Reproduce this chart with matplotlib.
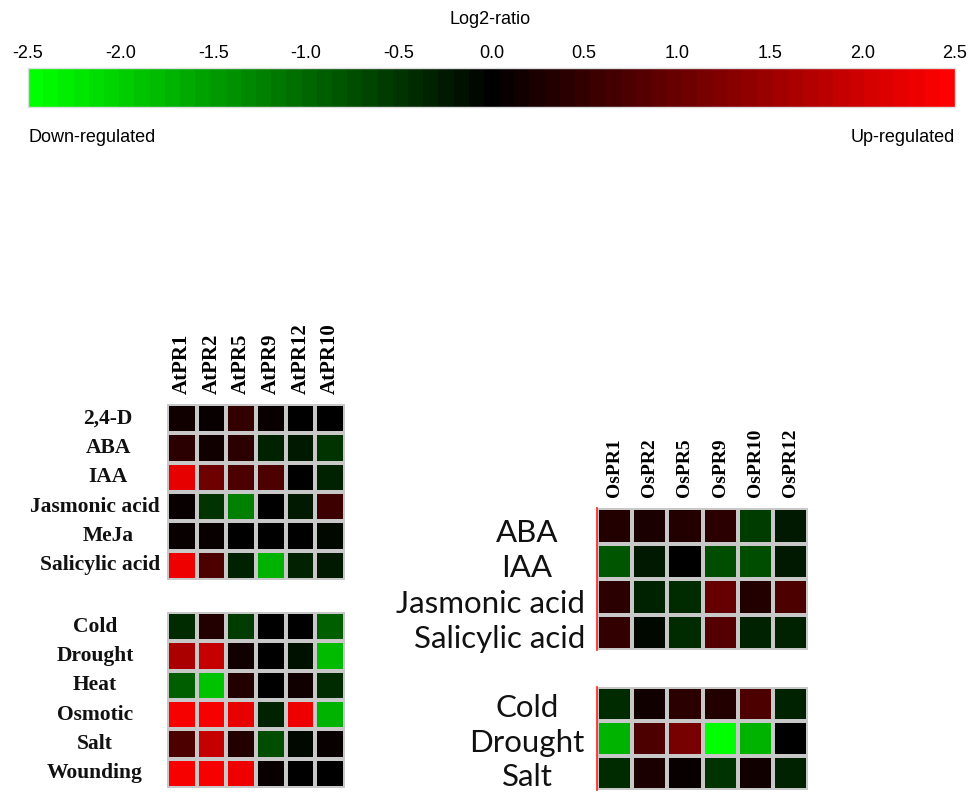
import numpy as np
import matplotlib
matplotlib.use("Agg")
import matplotlib.pyplot as plt
from matplotlib.colors import LinearSegmentedColormap, Normalize
from matplotlib.cm import ScalarMappable
from matplotlib.transforms import blended_transform_factory, ScaledTranslation

# ---- data: log2 expression ratios ----
at_genes = ["AtPR1", "AtPR2", "AtPR5", "AtPR9", "AtPR12", "AtPR10"]
at_hormones = ["2,4-D", "ABA", "IAA", "Jasmonic acid", "MeJa", "Salicylic acid"]
at_stresses = ["Cold", "Drought", "Heat", "Osmotic", "Salt", "Wounding"]

at_hormone_vals = [
    [0.20, 0.10, 0.50, 0.05, 0.00, 0.00],
    [0.40, 0.15, 0.40, -0.35, -0.25, -0.50],
    [2.20, 1.10, 0.70, 0.70, 0.00, -0.35],
    [0.05, -0.50, -1.20, 0.00, -0.25, 0.60],
    [0.10, 0.05, 0.00, 0.00, 0.00, -0.05],
    [2.30, 0.70, -0.35, -1.70, -0.35, -0.25],
]
at_stress_vals = [
    [-0.40, 0.30, -0.55, 0.00, 0.00, -0.90],
    [1.60, 1.90, 0.15, 0.00, -0.20, -1.80],
    [-0.90, -1.90, 0.35, 0.00, 0.15, -0.45],
    [2.40, 2.40, 2.20, -0.30, 2.30, -1.70],
    [0.70, 1.90, 0.30, -0.70, -0.10, 0.10],
    [2.40, 2.40, 2.30, 0.05, 0.00, 0.00],
]

os_genes = ["OsPR1", "OsPR2", "OsPR5", "OsPR9", "OsPR10", "OsPR12"]
os_hormones = ["ABA", "IAA", "Jasmonic acid", "Salicylic acid"]
os_stresses = ["Cold", "Drought", "Salt"]

os_hormone_vals = [
    [0.30, 0.25, 0.35, 0.40, -0.60, -0.25],
    [-0.80, -0.25, 0.00, -0.70, -0.70, -0.25],
    [0.45, -0.30, -0.45, 1.00, 0.35, 0.70],
    [0.50, -0.10, -0.40, 0.80, -0.35, -0.30],
]
os_stress_vals = [
    [-0.45, 0.20, 0.40, 0.35, 0.70, -0.35],
    [-1.70, 0.75, 1.15, -2.50, -1.70, 0.00],
    [-0.40, 0.25, 0.10, -0.50, 0.20, -0.35],
]

cbar_ticks = [-2.5, -2.0, -1.5, -1.0, -0.5, 0.0, 0.5, 1.0, 1.5, 2.0, 2.5]
cbar_title = "Log2-ratio"
low_label = "Down-regulated"
high_label = "Up-regulated"

# ---- styling ----
W, H = 976, 795
fig = plt.figure(figsize=(W / 100, H / 100), dpi=100)
fig.patch.set_facecolor("white")

cmap = LinearSegmentedColormap.from_list("gkr", ["#00ff00", "#000000", "#ff0000"], N=61)
norm = Normalize(vmin=-2.5, vmax=2.5)

narrow = ["Liberation Sans Narrow", "Liberation Sans", "DejaVu Sans"]
serif = ["Liberation Serif", "DejaVu Serif"]
sans = ["Lato", "Open Sans", "DejaVu Sans"]
grid_col = "#c8c8c8"


def px_axes(x0, y0, x1, y1):
    return fig.add_axes([x0 / W, 1 - y1 / H, (x1 - x0) / W, (y1 - y0) / H])


# ---- colour scale ----
cax = px_axes(28, 68, 955, 107)
cb = fig.colorbar(ScalarMappable(norm=norm, cmap=cmap), cax=cax,
                  orientation="horizontal", ticks=cbar_ticks)
cb.ax.xaxis.set_ticks_position("top")
cb.ax.xaxis.set_label_position("top")
cb.ax.tick_params(length=0, pad=4)
cb.ax.set_xticklabels([f"{t:.1f}" for t in cbar_ticks], fontfamily=narrow, fontsize=13)
cb.outline.set_edgecolor("#dddddd")
cb.outline.set_linewidth(1)
fig.text(490 / W, 1 - 20 / H, cbar_title, ha="center", va="center",
         fontfamily=narrow, fontsize=13)
fig.text(28 / W, 1 - 137 / H, low_label, ha="left", va="center",
         fontfamily=narrow, fontsize=13)
fig.text(955 / W, 1 - 137 / H, high_label, ha="right", va="center",
         fontfamily=narrow, fontsize=13)

renderer = fig.canvas.get_renderer()


def heatmap(ax, vals, rows, cols, *, col_labels, col_font, col_size, col_pad,
            row_font, row_size, row_weight, row_cx, row_xmax, row_dy=0.0,
            left_red=False):
    data = np.array(vals)
    ax.pcolormesh(data, cmap=cmap, norm=norm, edgecolors=grid_col, linewidth=1.6)
    ax.set_xlim(0, data.shape[1])
    ax.set_ylim(data.shape[0], 0)
    ax.set_yticks([])
    if col_labels:
        ax.set_xticks(np.arange(len(cols)) + 0.5)
        ax.set_xticklabels(cols, rotation=90, fontfamily=col_font,
                           fontsize=col_size, fontweight="bold")
        ax.xaxis.tick_top()
        ax.tick_params(axis="x", length=0, pad=col_pad)
    else:
        ax.set_xticks([])
    for name, sp in ax.spines.items():
        sp.set_visible(False)
    if left_red:
        ax.spines["left"].set_visible(True)
        ax.spines["left"].set_color("#ff2020")
        ax.spines["left"].set_linewidth(1.2)
    trans = blended_transform_factory(fig.transFigure, ax.transData) + \
        ScaledTranslation(0, -row_dy / 72, fig.dpi_scale_trans)
    for i, r in enumerate(rows):
        t = fig.text(row_cx / W, i + 0.5, r, transform=trans, ha="center",
                     va="center", fontfamily=row_font, fontsize=row_size,
                     fontweight=row_weight, color="#111111")
        w = t.get_window_extent(renderer).width
        if row_cx + w / 2 > row_xmax:
            t.set_x(row_xmax / W)
            t.set_ha("right")


# Arabidopsis panels
ax1 = px_axes(167, 404, 345, 580)
heatmap(ax1, at_hormone_vals, at_hormones, at_genes, col_labels=True,
        col_font=serif, col_size=15, col_pad=7, row_font=serif, row_size=15.5,
        row_weight="bold", row_cx=108, row_xmax=160)
ax2 = px_axes(167, 612, 345, 788)
heatmap(ax2, at_stress_vals, at_stresses, at_genes, col_labels=False,
        col_font=serif, col_size=15, col_pad=7, row_font=serif, row_size=15.5,
        row_weight="bold", row_cx=95, row_xmax=155)

# Rice panels
ax3 = px_axes(597, 508, 808, 650)
heatmap(ax3, os_hormone_vals, os_hormones, os_genes, col_labels=True,
        col_font=serif, col_size=14, col_pad=8, row_font=sans, row_size=22.5,
        row_weight="normal", row_cx=527, row_xmax=585, row_dy=5, left_red=True)
ax4 = px_axes(597, 687, 808, 790)
heatmap(ax4, os_stress_vals, os_stresses, os_genes, col_labels=False,
        col_font=serif, col_size=14, col_pad=8, row_font=sans, row_size=22.5,
        row_weight="normal", row_cx=527, row_xmax=585, row_dy=3, left_red=True)

fig.savefig("out.png", dpi=100, facecolor="white")
